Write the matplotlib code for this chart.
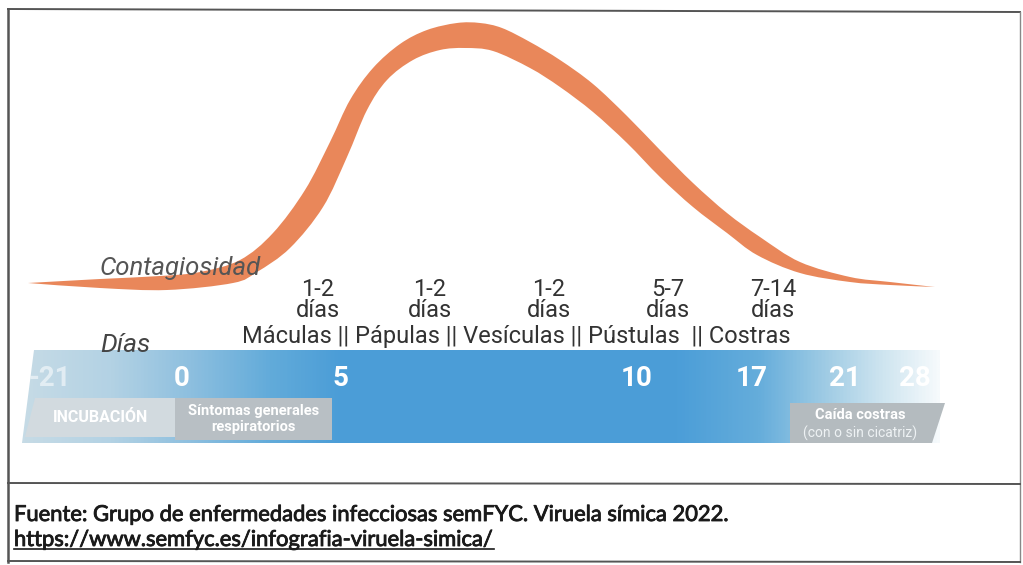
import numpy as np
import matplotlib
matplotlib.use("Agg")
import matplotlib.pyplot as plt
import matplotlib.patheffects as pe
from matplotlib.path import Path
from matplotlib.patches import PathPatch, Polygon
from matplotlib.colors import LinearSegmentedColormap

# ---------------- data (pixel-like units) ----------------
upper_x = [28, 100, 160, 200, 240, 273, 305, 330, 350, 373, 400, 427, 457, 480, 502,
           530, 560, 593, 627, 660, 693, 727, 760, 800, 850, 890, 935]
upper_y = [283, 279, 276, 272, 260, 233, 190, 142, 100, 68, 44, 30, 23, 23, 28,
           42, 60, 84, 116, 150, 183, 213, 237, 262, 277, 282, 287]
lower_x = [28, 100, 167, 233, 257, 290, 323, 347, 367, 387, 413, 440, 465, 493, 530,
           560, 593, 627, 660, 693, 727, 757, 800, 850, 890, 935]
lower_y = [283, 288, 290, 283, 272, 248, 207, 157, 110, 80, 60, 50, 48, 51, 68,
           87, 112, 143, 177, 207, 233, 255, 273, 282, 285, 287]

day_labels = ["-21", "0", "5", "10", "17", "21", "28"]
day_pos = [50, 182, 340, 637, 752, 845, 915]

phase_durations = ["1-2\ndías", "1-2\ndías", "1-2\ndías", "5-7\ndías", "7-14\ndías"]
phase_pos = [318, 430, 549, 668, 773]
phase_names = "Máculas || Pápulas || Vesículas || Pústulas  || Costras"

stage_boxes = [  # label, x0, x1, y1 (bottom), colour
    ("INCUBACIÓN", 25, 175, 437, "#d2dadf"),
    ("Síntomas generales\nrespiratorios", 175, 332, 440, "#b8bfc4"),
]
costras_label = ("Caída costras", "(con o sin cicatriz)")

source_line1 = "Fuente: Grupo de enfermedades infecciosas semFYC. Viruela símica 2022."
source_line2 = "https://www.semfyc.es/infografia-viruela-simica/"

# ---------------- figure ----------------
fig = plt.figure(figsize=(10.23, 5.65), dpi=100)
ax = fig.add_axes([0, 0, 1, 1])
ax.set_xlim(0, 1023)
ax.set_ylim(565, 0)
ax.axis("off")

NARROW = ["Roboto", "DejaVu Sans"]


def catmull_bezier(xs, ys):
    pts = np.column_stack([xs, ys]).astype(float)
    P = np.vstack([pts[0], pts, pts[-1]])
    verts = [tuple(pts[0])]
    codes = [Path.MOVETO]
    for i in range(1, len(P) - 2):
        p0, p1, p2, p3 = P[i - 1], P[i], P[i + 1], P[i + 2]
        c1 = p1 + (p2 - p0) / 6.0
        c2 = p2 - (p3 - p1) / 6.0
        verts += [tuple(c1), tuple(c2), tuple(p2)]
        codes += [Path.CURVE4] * 3
    return verts, codes


# orange contagiousness band
vu, cu = catmull_bezier(upper_x, upper_y)
vl, cl = catmull_bezier(lower_x[::-1], lower_y[::-1])
verts = vu + vl[1:] + [vu[0]]
codes = cu + cl[1:] + [Path.CLOSEPOLY]
ax.add_patch(PathPatch(Path(verts, codes), facecolor="#e9875a", edgecolor="none", zorder=3))

# blue timeline band with gradient
stops_x = [22, 110, 190, 270, 340, 680, 760, 830, 880, 940]
stops_c = ["#c6dbe6", "#b3d2e4", "#8dbfdf", "#62abda", "#4b9dd7", "#4c9ed8",
           "#65addb", "#a2cde5", "#cbe3ef", "#f6fafc"]
pos = [(x - stops_x[0]) / (stops_x[-1] - stops_x[0]) for x in stops_x]
cmap = LinearSegmentedColormap.from_list("band", list(zip(pos, stops_c)))
grad = np.linspace(0, 1, 512)[None, :]
band_poly = Polygon([(34, 350), (940, 350), (940, 443), (22, 443)], closed=True,
                    facecolor="none", edgecolor="none")
ax.add_patch(band_poly)
im = ax.imshow(grad, cmap=cmap, aspect="auto", extent=(22, 940, 443, 350), zorder=1,
               interpolation="bilinear")
im.set_clip_path(band_poly)
ax.set_xlim(0, 1023)
ax.set_ylim(565, 0)

# grey stage boxes
for label, x0, x1, y1, col in stage_boxes:
    if x0 < 50:
        poly = [(x0 + 10, 398), (x1, 398), (x1, y1), (x0, y1)]
    else:
        poly = [(x0, 398), (x1, 398), (x1, y1), (x0, y1)]
    ax.add_patch(Polygon(poly, closed=True, facecolor=col, edgecolor="none", zorder=2))
    ax.text((x0 + x1) / 2, (398 + y1) / 2, label, ha="center", va="center",
            color="white", fontsize=11.5 if x0 < 50 else 10.5, fontweight="bold",
            family=NARROW, linespacing=1.1, zorder=4)
ax.add_patch(Polygon([(790, 403), (945, 403), (932, 443), (790, 443)], closed=True,
                     facecolor="#b4bbbf", edgecolor="none", zorder=2))
ax.text(860, 415, costras_label[0], ha="center", va="center", color="white",
        fontsize=10.5, fontweight="bold", family=NARROW, zorder=4)
ax.text(860, 433, costras_label[1], ha="center", va="center", color="#eef2f4",
        fontsize=10, family=NARROW, zorder=4)

# day numbers
for lab, x in zip(day_labels, day_pos):
    ax.text(x, 378, lab, ha="center", va="center", color="white",
            alpha=0.55 if lab == "-21" else 1.0,
            fontsize=20, fontweight="bold", family=NARROW, zorder=4)

# labels
ax.text(100, 268, "Contagiosidad", ha="left", va="center", color="#555555",
        fontsize=18.5, style="italic", family=NARROW, zorder=4)
ax.text(100, 345, "Días", ha="left", va="center", color="#444444",
        fontsize=19, style="italic", family=NARROW, zorder=4)

for lab, x in zip(phase_durations, phase_pos):
    ax.text(x, 300, lab, ha="center", va="center", color="#333333",
            fontsize=17, family=NARROW, linespacing=0.92, zorder=4)
ax.text(516, 336, phase_names, ha="center", va="center", color="#333333",
        fontsize=17, family=NARROW, zorder=4)

# frame
fc = "#555555"
ax.plot([8, 1020], [9, 12], color=fc, lw=1.4, zorder=5)
ax.plot([8, 8], [9, 562], color=fc, lw=1.8, zorder=5)
ax.plot([1020, 1020], [12, 562], color="#888888", lw=1.0, zorder=5)
ax.plot([8, 1020], [483, 484], color=fc, lw=1.4, zorder=5)
ax.plot([8, 1020], [561, 562], color=fc, lw=1.4, zorder=5)

# source
SRC = ["Lato", "DejaVu Sans"]
thick = [pe.withStroke(linewidth=0.6, foreground="#1a1a1a")]
ax.text(14, 515, source_line1, ha="left", va="center", color="#1a1a1a",
        fontsize=15.8, family=SRC, zorder=4, path_effects=thick)
t2 = ax.text(14, 540, source_line2, ha="left", va="center", color="#1a1a1a",
             fontsize=15.8, family=SRC, zorder=4, path_effects=thick)
fig.canvas.draw()
bb = t2.get_window_extent(renderer=fig.canvas.get_renderer())
inv = ax.transData.inverted()
(xa, ya), (xb, yb) = inv.transform([[bb.x0, bb.y0], [bb.x1, bb.y1]])
ax.plot([xa, xb], [ya - 1, ya - 1], color="#1a1a1a", lw=1.2, zorder=4)

fig.savefig("out.png", dpi=100, facecolor="white")
